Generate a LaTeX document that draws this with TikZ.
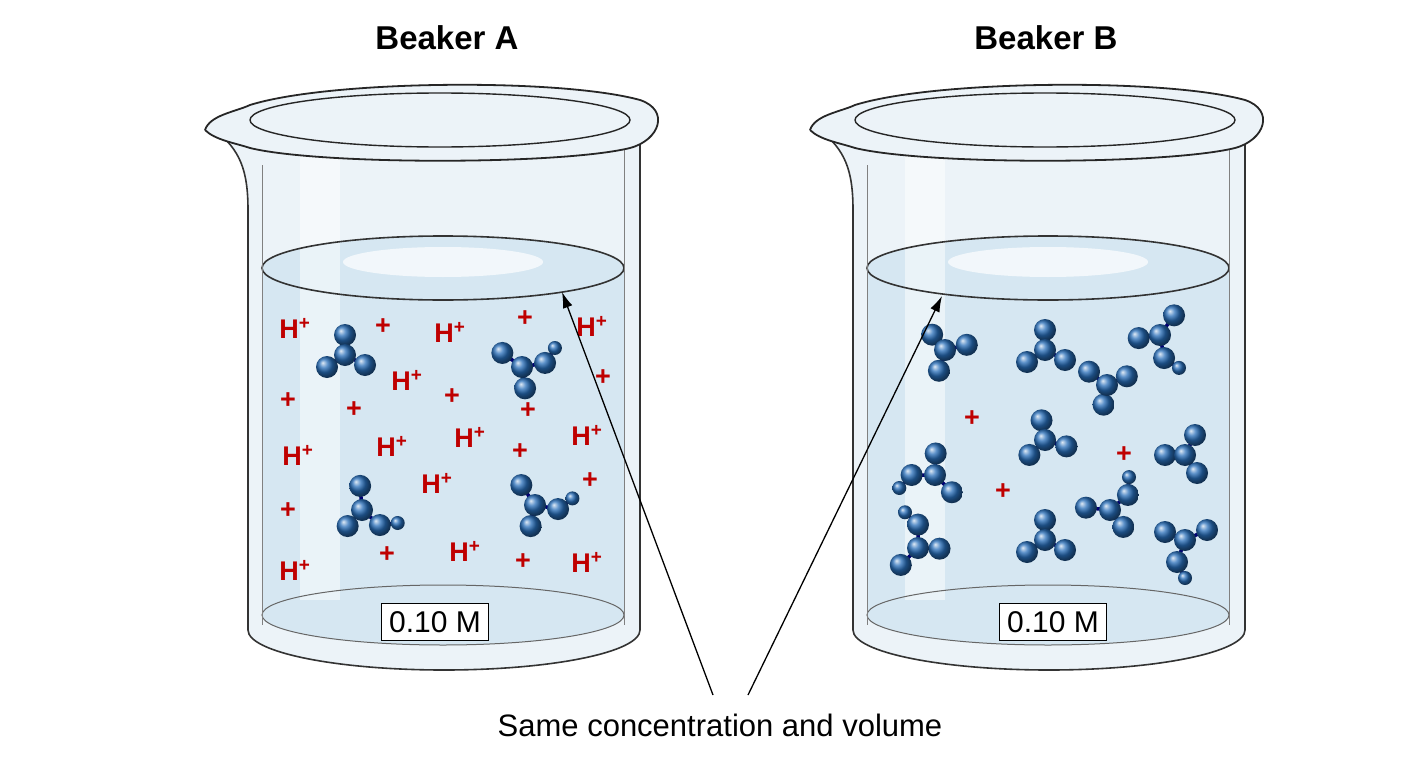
\documentclass[tikz,border=0pt]{standalone}
\usepackage{fontspec}
\setmainfont{Liberation Sans}
\usetikzlibrary{arrows.meta}
\definecolor{glassc}{RGB}{236,243,248}
\definecolor{liq}{RGB}{214,231,242}
\definecolor{mblue}{RGB}{40,110,185}
\begin{document}
\begin{tikzpicture}[x=1pt,y=-1pt,
  glass/.style={draw=black!80,line width=1.6pt},
  hp/.style={text=red!75!black,font=\bfseries\fontsize{27}{27}\selectfont},
  ball/.style={ball color=mblue,circle,inner sep=0pt,minimum size=#1},
  bond/.style={line width=3.5pt,draw=blue!45!black},
  lbl/.style={draw=black,fill=white,line width=1.2pt,font=\fontsize{30}{30}\selectfont,inner sep=8pt},
  pics/mol/.style={code={
    \draw[bond] (0,0)--(0,-20) (0,0)--(-18,12) (0,0)--(20,10);
    \node[ball=22pt] at (0,-20){};\node[ball=22pt] at (-18,12){};
    \node[ball=22pt] at (20,10){};\node[ball=22pt] at (0,0){};}},
  pics/molb/.style={code={
    \draw[bond] (0,0)--(-10,-22) (0,0)--(22,8) (22,8)--(38,0) (0,0)--(-8,20);
    \node[ball=22pt] at (-10,-22){};\node[ball=22pt] at (-8,20){};
    \node[ball=22pt] at (22,8){};\node[ball=14pt] at (38,0){};\node[ball=22pt] at (0,0){};}}
]
\useasboundingbox (0,0) rectangle (1408,768);
\fill[white] (0,0) rectangle (1408,768);
\foreach \cx/\nm/\lx in {0/A/435,605/B/1053}{
 \begin{scope}[xshift=\cx]
  \fill[glassc] (215,130) .. controls (240,150) and (248,170) .. (248,210) -- (248,630) arc[start angle=180,end angle=0,x radius=196,y radius=40] -- (640,140) -- cycle;
  \fill[liq] (262,268) -- (262,615) arc[start angle=180,end angle=0,x radius=181,y radius=30] -- (624,268) arc[start angle=0,end angle=-180,x radius=181,y radius=32];
  \fill[white,opacity=.5] (300,150) rectangle (340,600);
  \fill[white,opacity=.7] (443,262) ellipse[x radius=100,y radius=15];
  \draw[glass] (443,268) ellipse[x radius=181,y radius=32];
  \draw[black!60,line width=1pt] (443,615) ellipse[x radius=181,y radius=30];
  \draw[glass] (215,130) .. controls (240,150) and (248,170) .. (248,210) -- (248,630) arc[start angle=180,end angle=0,x radius=196,y radius=40] -- (640,140);
  \draw[black!50,line width=1pt] (262,165)--(262,625) (624,150)--(624,625);
  \fill[glassc,draw=black!85,line width=1.8pt] (205,130) .. controls (210,115) and (235,112) .. (250,105) .. controls (330,80) and (560,78) .. (640,100) .. controls (670,110) and (660,140) .. (630,148) .. controls (560,165) and (320,165) .. (250,148) .. controls (235,143) and (215,140) .. (205,130);
  \draw[black!85,line width=1.4pt] (440,120) ellipse[x radius=190,y radius=27];
  \node[lbl] (box\nm) at (\lx-\cx,622) {0.10 M};
  \node[font=\bfseries\fontsize{33}{33}\selectfont] (title\nm) at (447-\cx*0.01,38) {Beaker \nm};
 \end{scope}}
\foreach \p [count=\i] in {(295,328),(450,332),(592,326),(407,380),(298,455),(392,446),(470,437),(587,435),(437,483),(295,570),(465,551),(587,562)}
  \node[hp] (ha\i) at \p {H\textsuperscript{+}};
\foreach \p [count=\i] in {(383,327),(525,319),(603,378),(288,401),(354,410),(452,397),(528,411),(520,452),(590,481),(288,511),(387,555),(523,562)}
  \node[hp] (pa\i) at \p {+};
\pic at (345,355) {mol};
\pic[rotate=30] at (522,367) {molb};
\pic[rotate=-20] at (362,510) {molb};
\pic[rotate=10] at (535,505) {molb};
\foreach \p [count=\i] in {(972,419),(1124,455),(1003,492)}
  \node[hp] (pb\i) at \p {+};
\pic[rotate=40] at (945,350) {mol};
\pic at (1045,350) {mol};
\pic[rotate=-60] at (1160,335) {molb};
\pic[rotate=170] at (1107,385) {mol};
\pic[rotate=10] at (1045,440) {mol};
\pic[rotate=90] at (1185,455) {mol};
\pic[rotate=200] at (935,475) {molb};
\pic[rotate=60] at (1110,510) {molb};
\pic[rotate=0] at (1045,540) {mol};
\pic[rotate=110] at (918,548) {molb};
\pic[rotate=-90] at (1185,540) {molb};
\node[font=\fontsize{31}{31}\selectfont] (cap) at (720,725) {Same concentration and volume};
\coordinate (s1) at (713,695); \coordinate (s2) at (748,695);
\coordinate (t1) at (562,292); \coordinate (t2) at (942,296);
\draw[-{Latex[length=16pt,width=10pt]},line width=1.3pt] (s1)--(t1);
\draw[-{Latex[length=16pt,width=10pt]},line width=1.3pt] (s2)--(t2);
\end{tikzpicture}
\end{document}
